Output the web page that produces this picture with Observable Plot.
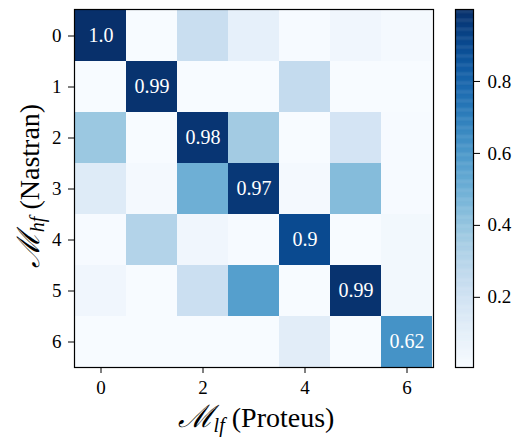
<!DOCTYPE html>
<html><head><meta charset="utf-8">
<script src="https://cdn.jsdelivr.net/npm/d3@7"></script>
<script src="https://cdn.jsdelivr.net/npm/@observablehq/plot@0.6"></script>
<style>
body{margin:0;background:#fff}
#wrap{position:relative;width:518px;height:439px}
#wrap svg{position:absolute;left:0;top:0}
#wrap svg text{font-family:'Liberation Serif', serif !important}
</style>
</head><body><div id="wrap"></div>
<script>
const rowLabels = [0, 1, 2, 3, 4, 5, 6];
const colLabels = [0, 1, 2, 3, 4, 5, 6];
const xTicks = [0, 2, 4, 6];
const yTicks = [0, 1, 2, 3, 4, 5, 6];
const row0 = [1.00, 0.00, 0.23, 0.09, 0.01, 0.04, 0.02];
const row1 = [0.00, 0.99, 0.00, 0.00, 0.25, 0.00, 0.00];
const row2 = [0.38, 0.00, 0.98, 0.36, 0.00, 0.18, 0.01];
const row3 = [0.13, 0.02, 0.50, 0.97, 0.02, 0.44, 0.01];
const row4 = [0.01, 0.31, 0.04, 0.01, 0.90, 0.00, 0.03];
const row5 = [0.04, 0.00, 0.22, 0.57, 0.00, 0.99, 0.03];
const row6 = [0.00, 0.00, 0.00, 0.00, 0.11, 0.00, 0.62];
const diagLabels = ["1.0", "0.99", "0.98", "0.97", "0.9", "0.99", "0.62"];
const cbTicks = [0.2, 0.4, 0.6, 0.8];
const vmin = 0.005, vmax = 1.0;

const rows = [row0, row1, row2, row3, row4, row5, row6];
const cells = rows.flatMap((r, i) => r.map((v, j) => ({r: rowLabels[i], c: colLabels[j], v})));
const diag = diagLabels.map((t, i) => ({r: rowLabels[i], c: colLabels[i], t}));

const SERIF = "Liberation Serif";
const colorOpts = {type: "linear", scheme: "blues", domain: [vmin, vmax], clamp: true};
const st = {fontSize: "19px", color: "#000", background: "transparent", overflow: "visible"};

const main = Plot.plot({
  width: 518, height: 439,
  marginLeft: 74, marginRight: 85, marginTop: 9, marginBottom: 72,
  style: st,
  x: {type: "band", domain: colLabels, padding: 0, ticks: xTicks, tickSize: 6, tickPadding: 7, label: null},
  y: {type: "band", domain: rowLabels, padding: 0, ticks: yTicks, tickSize: 6, tickPadding: 7, label: null},
  color: colorOpts,
  marks: [
    Plot.cell(cells, {x: "c", y: "r", fill: "v", inset: 0}),
    Plot.text(diag, {x: "c", y: "r", text: "t", fill: "white", fontSize: 20}),
    Plot.frame({stroke: "#000", strokeWidth: 1.2})
  ]
});

const step = 0.0025;
const ramp = d3.range(vmin, vmax, step);
const cbar = Plot.plot({
  width: 518, height: 439,
  marginLeft: 455, marginRight: 45, marginTop: 9, marginBottom: 72,
  style: st,
  x: {domain: [0, 1], axis: null},
  y: {domain: [vmin, vmax], ticks: cbTicks, tickFormat: d3.format(".1f"), axis: "right", tickSize: 6, tickPadding: 8, label: null},
  color: colorOpts,
  marks: [
    Plot.rect(ramp, {x1: 0, x2: 1, y1: d => d, y2: d => Math.min(vmax, d + step * 1.5), fill: d => d + step / 2}),
    Plot.frame({stroke: "#000", strokeWidth: 1.2})
  ]
});

const wrap = document.getElementById("wrap");
wrap.appendChild(main);
wrap.appendChild(cbar);

const svg = d3.select(main);
const xl = svg.append("text").attr("x", 256).attr("y", 427).attr("text-anchor", "middle")
  .attr("font-size", 28).attr("fill", "#000");
xl.append("tspan").style("font-style", "italic").attr("font-size", 31).text("ℳ");
xl.append("tspan").attr("dy", 5).style("font-style", "italic").attr("font-size", 20).text("lf");
xl.append("tspan").attr("dy", -5).text(" (Proteus)");

const yl = svg.append("text").attr("transform", "translate(39,186) rotate(-90)").attr("text-anchor", "middle")
  .attr("font-size", 28).attr("fill", "#000");
yl.append("tspan").style("font-style", "italic").attr("font-size", 31).text("ℳ");
yl.append("tspan").attr("dy", 5).style("font-style", "italic").attr("font-size", 20).text("hf");
yl.append("tspan").attr("dy", -5).text(" (Nastran)");

for (const s of [main, cbar]) {
  s.setAttribute("font-family", SERIF);
  s.querySelectorAll("text, tspan").forEach(el => { el.setAttribute("font-family", SERIF); });
}
</script>
</body></html>
